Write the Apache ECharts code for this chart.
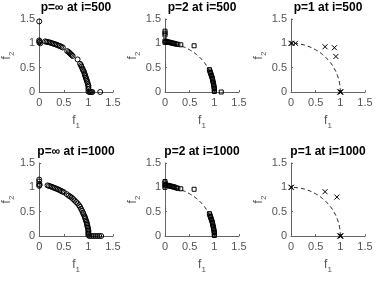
<!DOCTYPE html>
<html>
<head>
<meta charset="utf-8">
<script src="https://cdn.jsdelivr.net/npm/echarts@6/dist/echarts.min.js"></script>
<style>
  html, body { margin: 0; padding: 0; background: #fff; }
  #main { width: 379px; height: 292px; }
</style>
</head>
<body>
<div id="main"></div>
<script>
// panel titles, row by row
const panel_titles = ['p=\u221e at i=500', 'p=2 at i=500', 'p=1 at i=500',
  'p=\u221e at i=1000', 'p=2 at i=1000', 'p=1 at i=1000']
const panel_p = ['inf', '2', '1', 'inf', '2', '1']

// reference front (unit circle)
const front_curve = [[1, 0], [0.985, 0.174], [0.94, 0.342], [0.866, 0.5], [0.766, 0.643],
  [0.643, 0.766], [0.5, 0.866], [0.342, 0.94], [0.174, 0.985], [0, 1]]

// solutions, p = inf, i = 500
const pinf_500 = [[0, 1.45], [0, 1.06], [0, 1.02], [0.01, 1.04], [0.02, 1.0],
  [0.12, 1.04], [0.15, 1.03], [0.18, 1.025], [0.21, 1.02], [0.24, 1.01], [0.27, 1.0], [0.3, 0.99],
  [0.33, 0.98], [0.36, 0.97], [0.39, 0.955], [0.42, 0.945], [0.45, 0.93], [0.48, 0.915],
  [0.57, 0.84], [0.6, 0.82], [0.62, 0.8], [0.64, 0.78], [0.66, 0.76], [0.68, 0.74],
  [0.78, 0.67],
  [0.83, 0.58], [0.85, 0.55], [0.86, 0.52], [0.88, 0.48], [0.89, 0.45], [0.91, 0.42], [0.92, 0.38],
  [0.93, 0.35], [0.94, 0.32], [0.95, 0.29], [0.96, 0.26], [0.97, 0.23], [0.98, 0.2], [0.99, 0.16],
  [1.0, 0.13], [1.0, 0.1], [1.0, 0.06],
  [1.0, 0.01], [1.02, 0], [1.04, 0], [1.06, 0], [1.08, 0],
  [1.24, 0]]

// solutions, p = 2, i = 500
const p2_500 = [[0, 1.25], [0, 1.21], [0, 1.17],
  [0, 1.05], [0, 1.02], [0.02, 1.04], [0.04, 1.03], [0.06, 1.03], [0.08, 1.02], [0.1, 1.02],
  [0.12, 1.01], [0.14, 1.01], [0.16, 1.0], [0.18, 1.0], [0.2, 0.99], [0.23, 0.985], [0.26, 0.98],
  [0.32, 0.97],
  [0.59, 0.95],
  [0.9, 0.46], [0.91, 0.43], [0.92, 0.4], [0.93, 0.37], [0.94, 0.34], [0.95, 0.31], [0.96, 0.28],
  [0.965, 0.25], [0.97, 0.22], [0.98, 0.19], [0.985, 0.16], [0.99, 0.13], [0.995, 0.1],
  [1.0, 0.07], [1.0, 0.04], [1.0, 0.01],
  [1.14, 0]]

// solutions, p = 1, i = 500
const p1_500 = [[0, 1.0], [0.02, 1.0], [0.09, 1.0], [0.69, 0.93], [0.88, 0.91], [0.91, 0.73],
  [0.99, 0], [1.0, 0], [1.01, 0]]

// solutions, p = inf, i = 1000
const pinf_1000 = [[0, 1.16], [0, 1.12], [0, 1.07], [0, 1.03], [0.01, 1.05],
  [0.17, 1.04], [0.2, 1.03], [0.23, 1.02], [0.26, 1.01], [0.29, 0.995], [0.32, 0.985], [0.35, 0.97],
  [0.38, 0.96], [0.41, 0.945], [0.44, 0.93], [0.47, 0.915], [0.5, 0.9],
  [0.56, 0.86], [0.6, 0.83], [0.63, 0.81], [0.66, 0.79], [0.69, 0.76], [0.72, 0.73], [0.75, 0.7],
  [0.78, 0.67],
  [0.81, 0.63], [0.83, 0.6], [0.85, 0.56], [0.87, 0.52], [0.89, 0.48], [0.9, 0.45], [0.92, 0.41],
  [0.93, 0.38], [0.94, 0.35], [0.95, 0.32], [0.96, 0.29], [0.97, 0.26], [0.975, 0.23], [0.98, 0.2],
  [0.99, 0.17], [0.995, 0.14], [1.0, 0.11], [1.0, 0.08], [1.0, 0.05], [1.0, 0.02],
  [1.02, 0], [1.06, 0], [1.1, 0], [1.14, 0], [1.18, 0], [1.22, 0], [1.26, 0]]

// solutions, p = 2, i = 1000
const p2_1000 = [[0, 1.12], [0, 1.09], [0, 1.06], [0, 1.03], [0, 1.0],
  [0.02, 1.05], [0.04, 1.04], [0.06, 1.04], [0.08, 1.03], [0.1, 1.03], [0.12, 1.02], [0.14, 1.02],
  [0.16, 1.01], [0.18, 1.01], [0.2, 1.0], [0.23, 0.99], [0.26, 0.98], [0.32, 0.97],
  [0.59, 0.96],
  [0.9, 0.46], [0.91, 0.43], [0.92, 0.4], [0.93, 0.37], [0.94, 0.34], [0.95, 0.31], [0.96, 0.28],
  [0.965, 0.25], [0.97, 0.22], [0.98, 0.19], [0.985, 0.16], [0.99, 0.13], [0.995, 0.1],
  [1.0, 0.07], [1.0, 0.04], [1.0, 0.01]]

// solutions, p = 1, i = 1000
const p1_1000 = [[0, 1.0], [0.01, 1.0], [0.69, 0.91], [0.93, 0.8], [0.99, 0], [1.0, 0], [1.01, 0]]

const panel_points = [pinf_500, p2_500, p1_500, pinf_1000, p2_1000, p1_1000]

const grid_left = [39, 165, 291]
const grid_top = [19, 163]
const grid_w = 74
const grid_h = 73

const font = 'Liberation Sans'
const axis_color = '#666'
const label_color = '#555'

const symbols = {
  'inf': { symbol: 'circle', size: 5 },
  '2': { symbol: 'rect', size: 4 },
  '1': { symbol: 'path://M0,0L10,10M10,0L0,10', size: 5 }
}

function axis_name_style() {
  return {
    color: label_color,
    fontFamily: font,
    rich: {
      f: { fontSize: 12, color: label_color, fontFamily: font, lineHeight: 18 },
      s: { fontSize: 8, color: label_color, fontFamily: font, lineHeight: 9, verticalAlign: 'bottom' }
    }
  }
}

function make_axis(i, is_x) {
  return {
    type: 'value',
    gridIndex: i,
    min: 0,
    max: 1.5,
    interval: 0.5,
    name: is_x ? '{f|f}{s|1}' : '{f|f}{s|2}',
    nameLocation: 'middle',
    nameGap: is_x ? 20 : 21,
    nameTextStyle: axis_name_style(),
    axisLine: { show: true, onZero: false, lineStyle: { color: axis_color, width: 1 } },
    axisTick: { show: true, inside: true, length: 2, lineStyle: { color: axis_color } },
    axisLabel: { color: label_color, fontSize: 11, fontFamily: font, margin: is_x ? 5 : 4 },
    splitLine: { show: false }
  }
}

let grids = [], xAxes = [], yAxes = [], titles = [], series = []

for (let i = 0; i < 6; ++i) {
  let col = i % 3
  let row = Math.floor(i / 3)
  grids.push({ left: grid_left[col], top: grid_top[row], width: grid_w, height: grid_h })
  xAxes.push(make_axis(i, true))
  yAxes.push(make_axis(i, false))
  titles.push({
    text: panel_titles[i],
    left: grid_left[col] + grid_w / 2,
    top: grid_top[row] - 17,
    padding: 0,
    textAlign: 'center',
    textStyle: { fontSize: 12, fontWeight: 'bold', color: '#000', fontFamily: font }
  })

  let p = panel_p[i]
  if (p !== 'inf') {
    series.push({
      type: 'line',
      xAxisIndex: i,
      yAxisIndex: i,
      data: front_curve,
      smooth: true,
      showSymbol: false,
      silent: true,
      lineStyle: { color: '#222', width: 1, type: [4, 3] },
      z: 1
    })
  }
  series.push({
    type: 'scatter',
    xAxisIndex: i,
    yAxisIndex: i,
    data: panel_points[i],
    symbol: symbols[p].symbol,
    symbolSize: symbols[p].size,
    itemStyle: { color: 'rgba(255,255,255,0)', borderColor: '#000', borderWidth: 1, opacity: 1 },
    z: 2
  })
}

var chartDom = document.getElementById('main')
var myChart = echarts.init(chartDom, null, { renderer: 'canvas' })
var option = {
  animation: false,
  title: titles,
  grid: grids,
  xAxis: xAxes,
  yAxis: yAxes,
  series: series
}
option && myChart.setOption(option)
</script>
</body>
</html>
